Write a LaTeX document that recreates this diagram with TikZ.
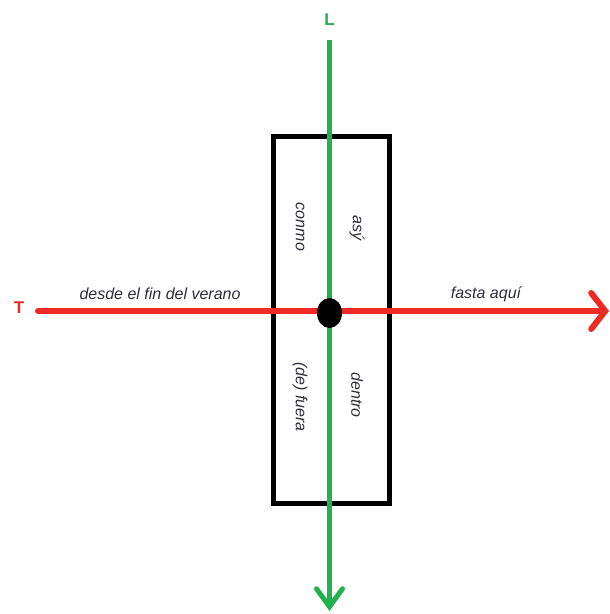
\documentclass[tikz,border=0pt]{standalone}
\usepackage{fontspec}
\setmainfont{Liberation Sans}
\usetikzlibrary{arrows.meta,shapes.geometric}
\definecolor{pgreen}{HTML}{22B14C}
\definecolor{pred}{HTML}{EE2A24}
\definecolor{ptext}{HTML}{2E2E3A}
\tikzset{
  axislabel/.style={font=\fontsize{17}{20}\selectfont\bfseries, inner sep=0pt},
  lbl/.style={font=\fontsize{16}{19}\selectfont\itshape, text=ptext, inner sep=0pt},
  vlbl/.style={lbl, rotate=-90},
}
\begin{document}
\begin{tikzpicture}[x=1pt,y=-1pt]
\useasboundingbox (0,0) rectangle (610,614);
% box
\node[draw=black, line width=5pt, minimum width=116pt, minimum height=367pt, inner sep=0pt] (box) at (331,319.5) {};
% axes
\coordinate (Ltop) at (329.5,40);
\coordinate (Lbot) at (329.5,611);
\coordinate (Tleft) at (38,311);
\coordinate (Tright) at (609,311);
\draw[pgreen, line width=5pt, -{Straight Barb[length=18pt,width=26pt,line cap=round]}] (Ltop) -- (Lbot);
\draw[pred, line width=6pt, line cap=round, -{Straight Barb[length=14pt,width=36pt,line cap=round]}] (Tleft) -- (Tright);
% dot
\node[ellipse, fill=black, minimum width=25pt, minimum height=30pt, inner sep=0pt] (dot) at (329.5,313) {};
% axis labels
\node[axislabel, text=pgreen] (L) at (329.5,20) {L};
\node[axislabel, text=pred] (T) at (19,308) {T};
% labels
\node[lbl] (desde) at (160,294) {desde el fin del verano};
\node[lbl] (fasta) at (486,294) {fasta aquí};
\node[vlbl] (conmo) at (300,227) {conmo};
\node[vlbl] (asy) at (357,228) {asý};
\node[vlbl] (fuera) at (300,397) {(de) fuera};
\node[vlbl] (dentro) at (357,395) {dentro};
\end{tikzpicture}
\end{document}
